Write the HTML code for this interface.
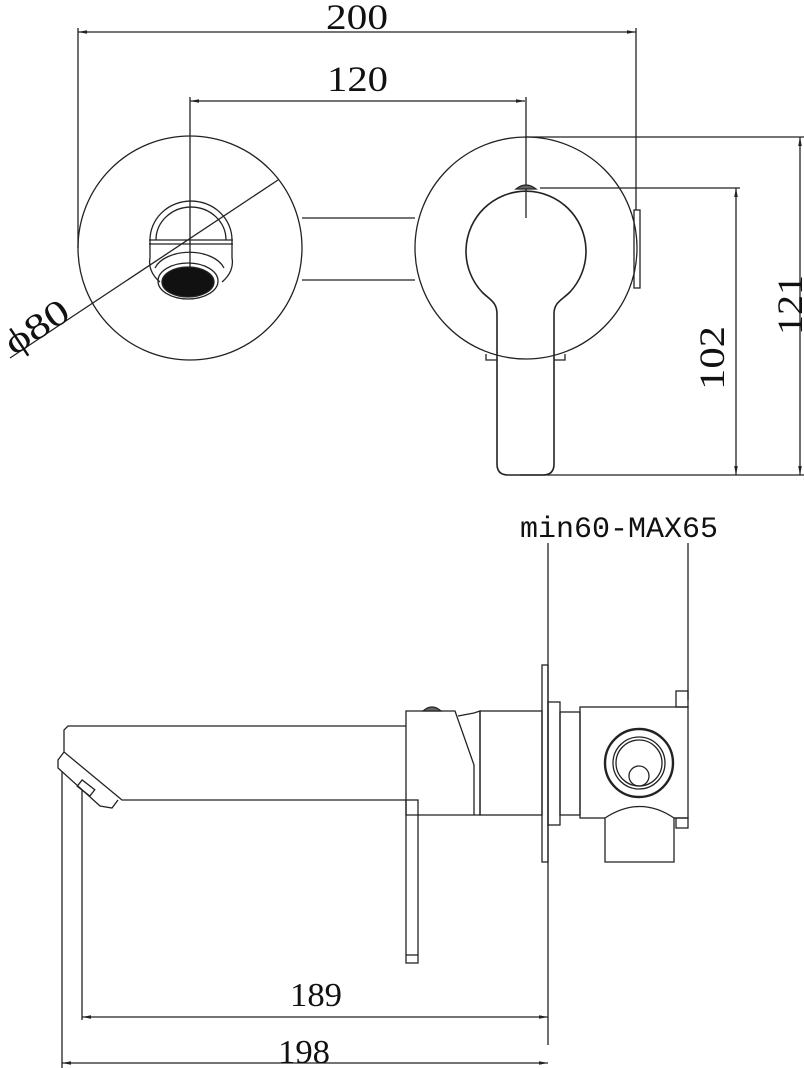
<!DOCTYPE html>
<html><head><style>
html,body{margin:0;padding:0;background:#fff;}
svg{display:block;}
text{font-family:"Liberation Serif",serif;fill:#111;}
</style></head><body>
<svg width="804" height="1068" viewBox="0 0 804 1068" xmlns="http://www.w3.org/2000/svg">
<defs>
<marker id="a" viewBox="0 0 10 10" refX="10" refY="5" markerWidth="7" markerHeight="7" orient="auto-start-reverse"><path d="M0,3 L10,5 L0,7 z" fill="#222"/></marker>
</defs>
<g fill="none" stroke="#222" stroke-width="1.3">
<line x1="78" y1="32" x2="636" y2="32" marker-start="url(#a)" marker-end="url(#a)"/>
<line x1="78" y1="28" x2="78" y2="248"/>
<line x1="636" y1="28" x2="636" y2="210"/>
<line x1="190" y1="101" x2="525" y2="101" marker-start="url(#a)" marker-end="url(#a)"/>
<line x1="190" y1="97" x2="190" y2="282"/>
<line x1="526" y1="97" x2="526" y2="218"/>
<line x1="525" y1="137" x2="804" y2="137"/>
<line x1="520" y1="475" x2="804" y2="475"/>
<line x1="800" y1="137" x2="800" y2="475" marker-start="url(#a)" marker-end="url(#a)"/>
<line x1="540" y1="188" x2="740" y2="188"/>
<line x1="736" y1="188" x2="736" y2="475" marker-start="url(#a)" marker-end="url(#a)"/>
<line x1="10" y1="358" x2="278" y2="180"/>
<circle cx="190" cy="248" r="112"/>
<line x1="302" y1="218" x2="415" y2="218"/>
<line x1="302" y1="280" x2="415" y2="280"/>
<path d="M150,240 A40,38 0 0 1 232,240 L232,258 A42,30 0 0 1 222,282"/>
<path d="M150,240 L150,258 A42,30 0 0 0 160,282"/>
<path d="M156,240 A34,32 0 0 1 226,240"/>
<line x1="149" y1="240" x2="233" y2="240"/>
<line x1="149" y1="244" x2="233" y2="244"/>
<path d="M155,268 A36,22 0 0 1 224,268"/>
<ellipse cx="188" cy="281" rx="30" ry="18"/>
<ellipse cx="188" cy="282" rx="26" ry="15" fill="#111"/>
<circle cx="526" cy="248" r="111"/>
<rect x="634" y="210" width="6" height="78"/>
<path d="M486,354 L486,360 L497,360 M565,354 L565,360 L554,360"/>
<path d="M497,314 C497,302 490,300 482,292 A60,60 0 1 1 570,292 C562,300 554,302 554,314 L554,464 Q554,475 543,475 L508,475 Q497,475 497,464 Z" stroke-width="1.6"/>
<path d="M516,189 Q526,181 536,189 Z" fill="#666"/>
<line x1="548" y1="543" x2="548" y2="1045"/>
<line x1="688" y1="543" x2="688" y2="700"/>
<line x1="82" y1="790" x2="82" y2="1020"/>
<line x1="62" y1="772" x2="62" y2="1068"/>
<line x1="82" y1="1017" x2="548" y2="1017" marker-start="url(#a)" marker-end="url(#a)"/>
<line x1="62" y1="1063" x2="548" y2="1063" marker-start="url(#a)" marker-end="url(#a)"/>
<path d="M406,726 L68,726 L64,730 L64,752 L122,800 L406,800"/>
<path d="M64,752 L58,760 L58,768 L100,806 L112,808 L118,800"/>
<rect x="78" y="784" width="16" height="8" transform="rotate(38 86 788)"/>
<path d="M406,711 L455,711 L474,765 L474,815 L406,815 Z"/>
<path d="M423,711 Q432,703 441,711 Z" fill="#666"/>
<path d="M458,716 L474,713 L480,711 L480,815 L474,815"/>
<rect x="480" y="711" width="62" height="104"/>
<rect x="542" y="665" width="6" height="197"/>
<rect x="548" y="702" width="12" height="123"/>
<rect x="560" y="712" width="20" height="103"/>
<rect x="580" y="707" width="108" height="111"/>
<rect x="676" y="691" width="12" height="16"/>
<rect x="676" y="818" width="12" height="10"/>
<circle cx="639" cy="763" r="34" stroke-width="2.4"/>
<circle cx="639" cy="763" r="26"/>
<circle cx="639" cy="763" r="23"/>
<circle cx="639" cy="776" r="10"/>
<path d="M605,818 Q640,795 674,818 L674,862 L605,862 Z" fill="#fff"/>
<rect x="406" y="800" width="12" height="163"/>
<line x1="406" y1="955" x2="418" y2="955"/>
</g>
<text x="326" y="29" font-size="36" textLength="62" lengthAdjust="spacingAndGlyphs">200</text>
<text x="327" y="91" font-size="36" textLength="61" lengthAdjust="spacingAndGlyphs">120</text>
<text transform="translate(802,335) rotate(-90)" font-size="36" textLength="60" lengthAdjust="spacingAndGlyphs">121</text>
<text transform="translate(724,390) rotate(-90)" font-size="36" textLength="64" lengthAdjust="spacingAndGlyphs">102</text>
<text transform="translate(14,356) rotate(-33.6)" font-size="36" textLength="70" lengthAdjust="spacingAndGlyphs">ϕ80</text>
<text x="520" y="537" font-size="30" font-family="Liberation Mono, monospace" style="font-family:'Liberation Mono',monospace" textLength="198" lengthAdjust="spacingAndGlyphs">min60-MAX65</text>
<text x="290" y="1006" font-size="34" textLength="52" lengthAdjust="spacingAndGlyphs">189</text>
<text x="278" y="1063" font-size="34" textLength="52" lengthAdjust="spacingAndGlyphs">198</text>
</svg>
</body></html>
